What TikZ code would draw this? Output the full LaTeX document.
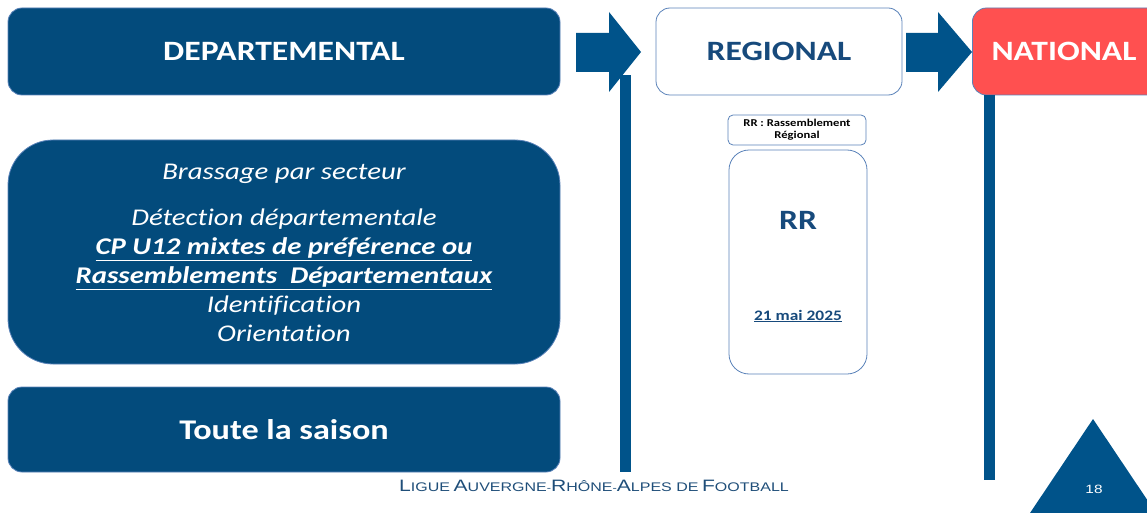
\documentclass[tikz,border=0pt]{standalone}
\usepackage{fontspec}
\setmainfont{Carlito}[FakeStretch=1.2, Ligatures={NoCommon}]
\newfontfamily\arial{Liberation Sans}[FakeStretch=1.28]
\definecolor{dblue}{RGB}{3,75,124}
\definecolor{bblue}{RGB}{0,83,138}
\definecolor{tblue}{RGB}{23,74,124}
\definecolor{edge}{RGB}{90,130,185}
\definecolor{nred}{RGB}{255,80,80}
\definecolor{foot}{RGB}{31,78,121}
\tikzset{
  darkbox/.style={fill=dblue, draw=edge, line width=0.8pt, text=white, inner sep=0pt},
  whitebox/.style={fill=white, draw=edge, line width=0.8pt, text=tblue, inner sep=0pt},
  bar/.style={fill=bblue, draw=none},
  titlefont/.style={font=\fontsize{28}{32}\selectfont\bfseries},
}
\newcommand{\smc}[2]{{\fontsize{16.5}{17}\selectfont #1}{\fontsize{12.5}{12.5}\selectfont #2}}
\begin{document}
\begin{tikzpicture}[x=1pt,y=-1pt]
\useasboundingbox (0,0) rectangle (1147,513);
% top row
\node[darkbox, rounded corners=14pt, minimum width=552pt, minimum height=87pt, titlefont] (dep) at (284,51.5) {DEPARTEMENTAL};
\node[whitebox, rounded corners=14pt, minimum width=246pt, minimum height=87pt, titlefont] (reg) at (779,51.5) {REGIONAL};
\node[fill=nred, draw=edge, line width=0.8pt, text=white, inner sep=0pt, rounded corners=14pt, minimum width=200pt, minimum height=87pt, anchor=west] (nat) at (972,51.5) {};
\node[text=white, titlefont, inner sep=0pt] (natt) at (1064,51.5) {NATIONAL};
% vertical bars
\fill[bar] (620,75) rectangle (631,472);
\fill[bar] (984,95) rectangle (995,480);
% block arrows
\fill[bblue] (576,33) -- (609,33) -- (609,12) -- (641,52) -- (609,92) -- (609,72) -- (576,72) -- cycle;
\fill[bblue] (906,33) -- (938,33) -- (938,12) -- (972,52) -- (938,92) -- (938,72) -- (906,72) -- cycle;
% left boxes
\node[darkbox, rounded corners=45pt, minimum width=552pt, minimum height=224pt] (mid) at (284,252) {};
\node[text=white, align=center, font=\fontsize{24}{29}\selectfont\itshape, inner sep=0pt] (midt) at (284,253) {Brassage par secteur\\[17pt]
D\'etection d\'epartementale\\
\textbf{\underline{CP U12 mixtes de pr\'ef\'erence ou}}\\
\textbf{\underline{Rassemblements\ \ D\'epartementaux}}\\
Identification\\
Orientation};
\node[darkbox, rounded corners=14pt, minimum width=552pt, minimum height=85pt, font=\fontsize{28.5}{32}\selectfont\bfseries] (saison) at (284,429.5) {Toute la saison};
% regional column
\node[whitebox, rounded corners=5pt, minimum width=138pt, minimum height=30pt, align=center, text=black, font=\fontsize{10.5}{12}\selectfont\bfseries] (rrl) at (797,130) {RR : Rassemblement\\R\'egional};
\node[whitebox, rounded corners=20pt, minimum width=138pt, minimum height=224pt] (rr) at (798,262) {};
\node[text=tblue, font=\fontsize{28}{32}\selectfont\bfseries, inner sep=0pt] (rrt) at (798,220) {RR};
\node[text=tblue, font=\fontsize{14.5}{17}\selectfont\bfseries, inner sep=0pt] (date) at (798,316) {\underline{21 mai 2025}};
% footer
\node[text=foot, font=\arial, inner sep=0pt] (footer) at (594,486) {\smc{L}{IGUE} \smc{A}{UVERGNE}-\smc{R}{H\^ONE}-\smc{A}{LPES DE} \smc{F}{OOTBALL}};
\fill[bblue] (1093,419) -- (1156,513) -- (1030,513) -- cycle;
\node[text=white, font=\arial\fontsize{12}{14}\selectfont, inner sep=0pt] (page) at (1094,489) {18};
\end{tikzpicture}
\end{document}
